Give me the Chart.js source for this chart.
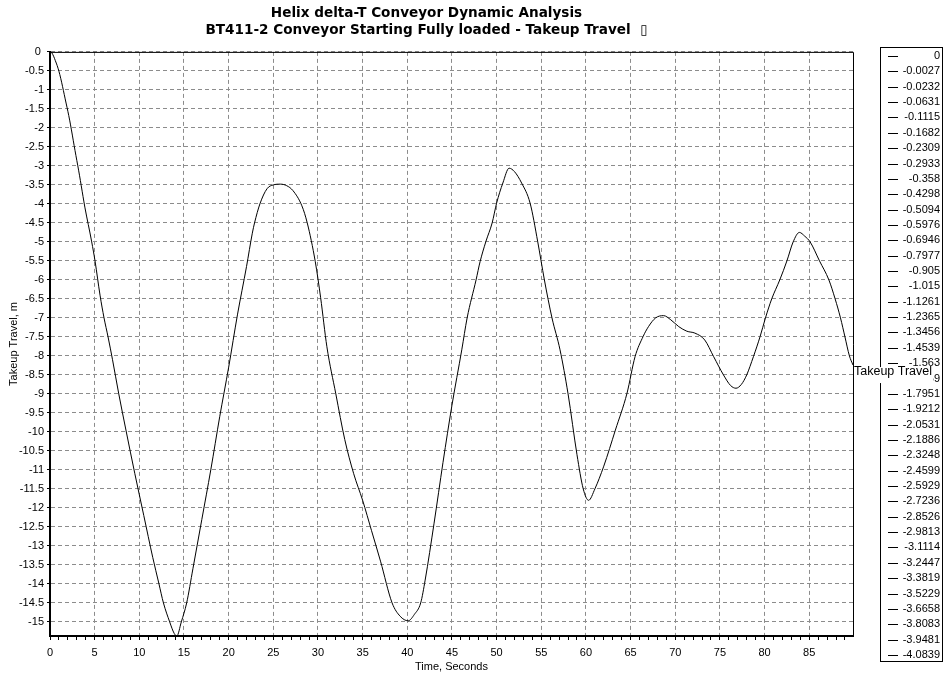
<!DOCTYPE html>
<html>
<head>
<meta charset="utf-8">
<script src="https://cdn.jsdelivr.net/npm/chart.js@4.4.1/dist/chart.umd.min.js"></script>
<style>
  html, body { margin: 0; padding: 0; background: #fff; }
  #wrap { position: relative; width: 944px; height: 674px; }
</style>
</head>
<body>
<div id="wrap"><canvas id="chart"></canvas></div>
<script>
// values shown in the legend box (first samples of the run, 0.1 s apart)
const legendValues = [0, -0.0027, -0.0232, -0.0631, -0.1115, -0.1682, -0.2309, -0.2933,
  -0.358, -0.4298, -0.5094, -0.5976, -0.6946, -0.7977, -0.905, -1.015, -1.1261, -1.2365,
  -1.3456, -1.4539, -1.563, -1.6759, -1.7951, -1.9212, -2.0531, -2.1886, -2.3248, -2.4599,
  -2.5929, -2.7236, -2.8526, -2.9813, -3.1114, -3.2447, -3.3819, -3.5229, -3.6658, -3.8083,
  -3.9481, -4.0839];

// time, s
const timeSec = [0, 0.1, 0.2, 0.3, 0.4, 0.5, 0.6, 0.7, 0.8, 0.9, 1.0, 1.1, 1.2, 1.3, 1.4,
  1.5, 1.6, 1.7, 1.8, 1.9, 2.0, 2.1, 2.2, 2.3, 2.4, 2.5, 2.6, 2.7, 2.8, 2.9, 3.0, 3.1, 3.2,
  3.3, 3.4, 3.5, 3.6, 3.7, 3.8, 3.9,
  4.67, 5.04, 5.6, 6.05, 6.5, 7.0, 7.7, 8.5, 9.5, 10.5, 11.5, 12.2, 12.7, 13.4, 13.9, 14.2,
  14.7, 15.3, 16, 17, 18, 19, 20, 21, 22, 22.65, 22.9, 23.5, 24.3, 25, 25.8, 26.5, 27.2,
  28.2, 28.8, 29.7, 30.3, 31.0, 32, 33, 34, 35, 36, 37, 38.3, 39.2, 40.1, 40.8, 41.5, 42,
  43, 44, 45, 46.1, 46.7, 47.7, 48.15, 48.8, 49.5, 50.0, 50.7, 51.4, 52.0, 52.8, 53.75,
  54.6, 55.35, 56.2, 57.1, 58, 59, 59.7, 60.3, 61, 62, 63.3, 64.6, 65.5, 66.4, 67.0, 67.8,
  68.7, 69.5, 70.4, 71.3, 72.2, 73.3, 74.3, 75.4, 76.2, 76.8, 77.4, 78.0, 78.75, 79.5,
  80.1, 80.8, 81.7, 82.5, 83.2, 83.9, 84.5, 85.1, 86.15, 87.2, 87.9, 88.5, 89.0, 89.5, 89.9];

// takeup travel, m
const takeupTravel = [0, -0.0027, -0.0232, -0.0631, -0.1115, -0.1682, -0.2309, -0.2933,
  -0.358, -0.4298, -0.5094, -0.5976, -0.6946, -0.7977, -0.905, -1.015, -1.1261, -1.2365,
  -1.3456, -1.4539, -1.563, -1.6759, -1.7951, -1.9212, -2.0531, -2.1886, -2.3248, -2.4599,
  -2.5929, -2.7236, -2.8526, -2.9813, -3.1114, -3.2447, -3.3819, -3.5229, -3.6658, -3.8083,
  -3.9481, -4.0839,
  -5.0, -5.5, -6.4, -7.0, -7.5, -8.1, -9.0, -9.95, -11.1, -12.2, -13.3, -14.0, -14.5,
  -15.0, -15.3, -15.37, -15.0, -14.5,
  -13.6, -12.3, -11.0, -9.6, -8.3, -6.9, -5.65, -4.77, -4.5, -4.0, -3.6, -3.5, -3.48,
  -3.52, -3.65, -4.05, -4.5, -5.52, -6.47, -7.76, -9.0, -10.2, -11.1, -11.8, -12.6, -13.4,
  -14.5, -14.85, -14.97, -14.8, -14.5, -13.9, -12.4, -10.8, -9.3, -7.84, -7.0, -6.0,
  -5.52, -4.99, -4.5, -3.98, -3.45, -3.06, -3.15, -3.45, -3.98, -4.99, -6.0, -7.0, -7.84,
  -9.0, -10.6, -11.5, -11.8, -11.5, -10.9, -9.95, -8.98, -8.02, -7.49, -7.23, -7.0, -6.94,
  -7.05, -7.23, -7.35, -7.4, -7.58, -8.02, -8.5, -8.78, -8.85, -8.75, -8.5, -8.02, -7.49,
  -7.0, -6.5, -6.0, -5.5, -5.0, -4.75, -4.85, -5.0, -5.5, -6.0, -6.5, -7.0, -7.5, -8.0,
  -8.24];

const titleLines = [
  "Helix delta-T Conveyor Dynamic Analysis",
  "BT411-2 Conveyor Starting Fully loaded - Takeup Travel  \u25AF"
];
const seriesName = "Takeup Travel";

const FONT = "'Liberation Sans', Arial, sans-serif";
const GRID = "#8c8c8c";

const points = timeSec.map((t, i) => ({ x: t, y: takeupTravel[i] }));

// thin frame on top/right of the plot area
const framePlugin = {
  id: "frame",
  beforeDatasetsDraw(chart) {
    const { ctx, chartArea: a } = chart;
    ctx.save();
    ctx.strokeStyle = "#000";
    ctx.lineWidth = 1;
    ctx.beginPath();
    ctx.moveTo(a.left, a.top + 0.5);
    ctx.lineTo(a.right + 0.5, a.top + 0.5);
    ctx.lineTo(a.right + 0.5, a.bottom);
    ctx.stroke();
    ctx.restore();
  }
};

// the value list box on the right + series label at the line end
const sideLegend = {
  id: "sideLegend",
  afterDraw(chart) {
    const ctx = chart.ctx;
    const boxL = 880, boxT = 47, boxW = 62, boxH = 614;
    ctx.save();
    ctx.strokeStyle = "#000";
    ctx.lineWidth = 1;
    ctx.strokeRect(boxL + 0.5, boxT + 0.5, boxW, boxH);
    ctx.font = "11px " + FONT;
    ctx.fillStyle = "#000";
    ctx.textAlign = "right";
    ctx.textBaseline = "middle";
    const rowH = (655 - 56) / (legendValues.length - 1);
    legendValues.forEach((v, i) => {
      const y = Math.round(56 + i * rowH);
      ctx.beginPath();
      ctx.moveTo(888, y + 0.5);
      ctx.lineTo(898, y + 0.5);
      ctx.stroke();
      ctx.fillText(String(v), 940, y);
    });

    const meta = chart.getDatasetMeta(0);
    const last = meta.data[meta.data.length - 1];
    ctx.font = "12.5px " + FONT;
    ctx.textAlign = "left";
    ctx.textBaseline = "middle";
    const w = ctx.measureText(seriesName).width;
    const ty = last.y + 7;
    ctx.fillStyle = "#fff";
    ctx.fillRect(last.x + 1, ty - 5, w + 1, 16);
    ctx.fillStyle = "#000";
    ctx.fillText(seriesName, last.x + 1, ty);
    ctx.restore();
  }
};

new Chart(document.getElementById("chart"), {
  type: "line",
  data: {
    datasets: [
      {
        label: seriesName,
        data: points,
        borderColor: "#000",
        borderWidth: 1,
        pointRadius: 0,
        cubicInterpolationMode: "monotone",
        fill: false,
      },
    ],
  },
  options: {
    responsive: true,
    maintainAspectRatio: false,
    animation: false,
    layout: { padding: { left: 0, right: 91, top: 0, bottom: 0 } },
    plugins: {
      legend: { display: false },
      tooltip: { enabled: false },
      title: {
        display: true,
        text: titleLines,
        color: "#000",
        font: { family: "'DejaVu Sans', sans-serif", size: 13.6, weight: "bold", lineHeight: 1.32 },
        padding: { top: 4, bottom: 12 },
      },
    },
    scales: {
      x: {
        type: "linear",
        min: 0,
        max: 89.9,
        afterFit(s) { s.height = 38; },
        border: { color: "#000", width: 2, dash: [4, 3] },
        grid: {
          color: (c) => (c.tick && c.tick.value % 5 === 0 ? GRID : "transparent"),
          tickColor: "#000",
          tickLength: 4,
        },
        ticks: {
          stepSize: 1,
          autoSkip: false,
          maxRotation: 0,
          includeBounds: false,
          padding: 6,
          color: "#000",
          font: { family: FONT, size: 11 },
          callback: (v) => (v % 5 === 0 ? String(v) : ""),
        },
        title: {
          display: true,
          text: "Time, Seconds",
          color: "#000",
          font: { family: FONT, size: 11 },
          padding: { top: 0, bottom: 0 },
        },
      },
      y: {
        min: -15.37,
        max: 0,
        afterFit(s) { s.width = 50; },
        border: { color: "#000", width: 2, dash: [4, 3] },
        grid: { color: GRID, tickColor: "#000", tickLength: 3 },
        ticks: {
          stepSize: 0.5,
          includeBounds: false,
          padding: 3,
          color: "#000",
          font: { family: FONT, size: 11 },
          callback: (v) => (v === 0 ? "0 " : String(v)),
        },
        title: {
          display: true,
          text: "Takeup Travel, m",
          color: "#000",
          font: { family: FONT, size: 11 },
          padding: { top: 7, bottom: 0 },
        },
      },
    },
  },
  plugins: [framePlugin, sideLegend],
});
</script>
</body>
</html>
